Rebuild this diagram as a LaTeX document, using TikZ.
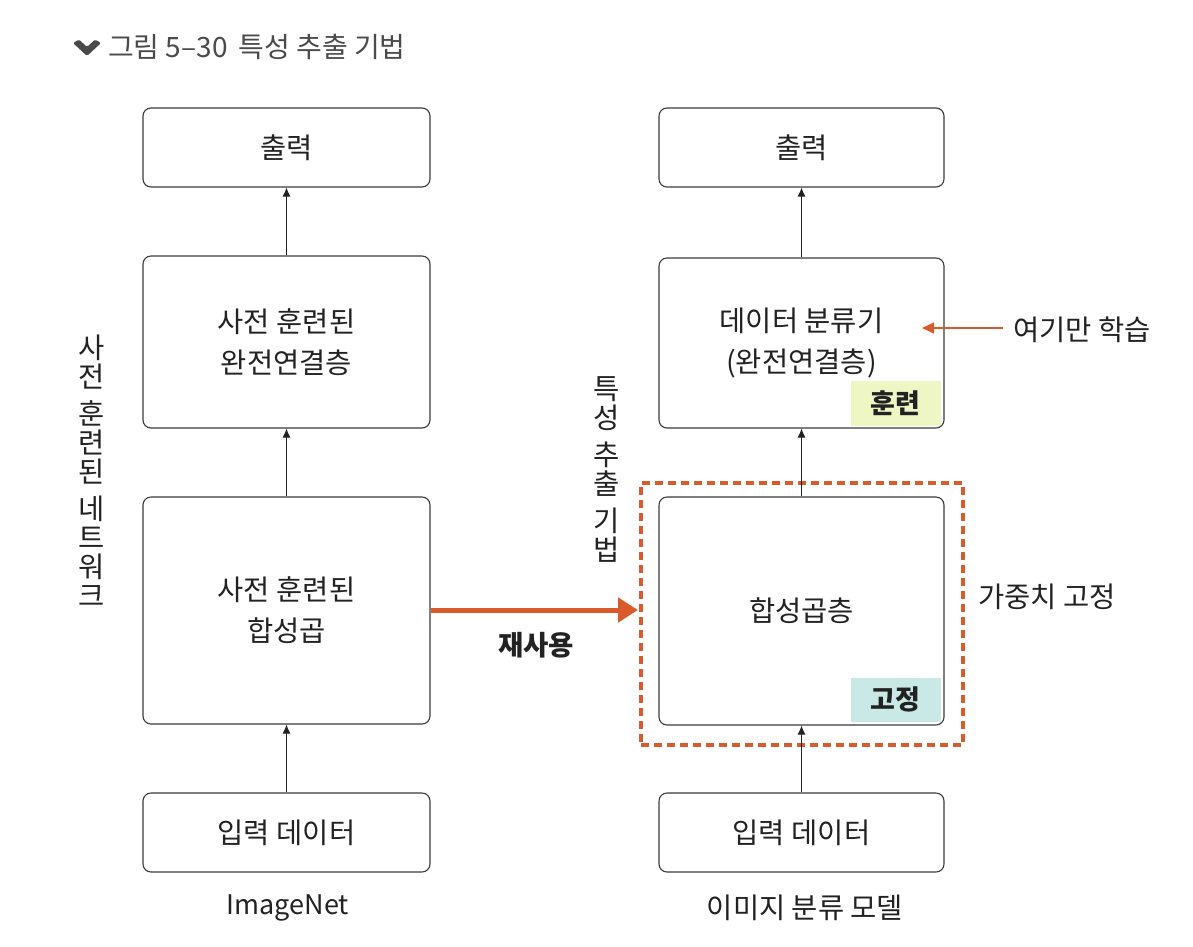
\documentclass[tikz,border=0pt]{standalone}
\usepackage{fontspec}
\setmainfont{Noto Sans CJK KR}
\usetikzlibrary{arrows.meta}
\definecolor{boxline}{HTML}{3A3A3A}
\definecolor{txt}{HTML}{222222}
\definecolor{ttl}{HTML}{4A4A4A}
\definecolor{orng}{HTML}{D95B2B}
\definecolor{tagtrain}{HTML}{EEF6C4}
\definecolor{tagfix}{HTML}{C8E9E6}
\tikzset{
  lbox/.style={draw=boxline, line width=1.1pt, rounded corners=8pt, text=txt, align=center,
    font=\fontsize{28.5}{41}\selectfont, inner sep=0pt},
  tagnode/.style={inner sep=0pt, minimum width=90pt, minimum height=45pt, text=txt,
    font=\fontsize{27}{30}\selectfont\bfseries},
  flow/.style={draw=txt, line width=1pt, -{Latex[length=9pt,width=8pt]}},
  plain/.style={text=txt, font=\fontsize{28.5}{32}\selectfont, inner sep=0pt},
  vtext/.style={text=txt, font=\fontsize{28.5}{29}\selectfont, align=center, inner sep=0pt},
}
\begin{document}
\begin{tikzpicture}[x=1pt,y=-1pt]
\useasboundingbox (0,0) rectangle (1193,946);
% title
\fill[ttl, rounded corners=1.5pt] (73,43) -- (79,39.5) -- (87,47) -- (95,39.5) -- (101,43) -- (87,56) -- cycle;
\node[anchor=west, text=ttl, font=\fontsize{28}{30}\selectfont, inner sep=0pt] (title) at (108,47) {그림 5–30\, 특성 추출 기법};
% tags (drawn before box borders)
\node[tagnode, fill=tagtrain, anchor=south east] (tagtrain) at (941,426) {훈련};
\node[tagnode, fill=tagfix, anchor=south east, minimum height=44pt] (tagfix) at (941,722) {고정};
% left column
\node[lbox, minimum width=287pt, minimum height=79pt] (outL) at (286.5,147.5) {출력};
\node[lbox, minimum width=287pt, minimum height=172pt] (fcL) at (286.5,342) {사전 훈련된\\완전연결층};
\node[lbox, minimum width=287pt, minimum height=227pt] (convL) at (286.5,610.5) {사전 훈련된\\합성곱};
\node[lbox, minimum width=287pt, minimum height=79pt] (inL) at (286.5,832.5) {입력 데이터};
% right column
\node[lbox, minimum width=285pt, minimum height=79pt] (outR) at (801.5,147.5) {출력};
\node[lbox, minimum width=285pt, minimum height=170pt] (clsR) at (801.5,343) {데이터 분류기\\(완전연결층)};
\node[lbox, minimum width=285pt, minimum height=228pt] (convR) at (801.5,611) {합성곱층};
\node[lbox, minimum width=285pt, minimum height=79pt] (inR) at (801.5,832.5) {입력 데이터};
% dashed frame
\node[draw=orng, line width=3.5pt, dash pattern=on 8pt off 5pt, minimum width=322pt, minimum height=262pt, inner sep=0pt] (frame) at (802,614) {};
% flows
\draw[flow] (inL.north) -- (convL.south);
\draw[flow] (convL.north) -- (fcL.south);
\draw[flow] (fcL.north) -- (outL.south);
\draw[flow] (inR.north) -- (convR.south);
\draw[flow] (convR.north) -- (clsR.south);
\draw[flow] (clsR.north) -- (outR.south);
% reuse arrow
\coordinate (reuseEnd) at (638,610);
\draw[draw=orng, line width=5pt, -{Triangle[length=20pt,width=24pt]}] (convL.east |- reuseEnd) -- (reuseEnd);
\node[text=txt, font=\fontsize{27.5}{30}\selectfont\bfseries, inner sep=0pt] (reuse) at (536,645) {재사용};
% learn-only label
\node[plain, anchor=west] (learn) at (1013,330) {여기만 학습};
\coordinate (learnTip) at (922,328);
\draw[draw=orng, line width=1.5pt, -{Triangle[length=12pt,width=11pt]}] (learn.west |- learnTip) ++(-10,0) -- (learnTip);
% weight fix label
\node[plain, anchor=west] (fix) at (978,597) {가중치 고정};
% bottom labels
\node[text=txt, font=\fontsize{27}{30}\selectfont, inner sep=0pt] (imgnet) at (288,908) {ImageNet};
\node[plain] (model) at (805,908) {이미지 분류 모델};
% vertical texts
\node[vtext] (vleft) at (92,471) {사\\전\\[8pt]훈\\련\\된\\[8pt]네\\트\\워\\크};
\node[vtext] (vright) at (607,469) {특\\성\\[8pt]추\\출\\[8pt]기\\법};
\end{tikzpicture}
\end{document}
